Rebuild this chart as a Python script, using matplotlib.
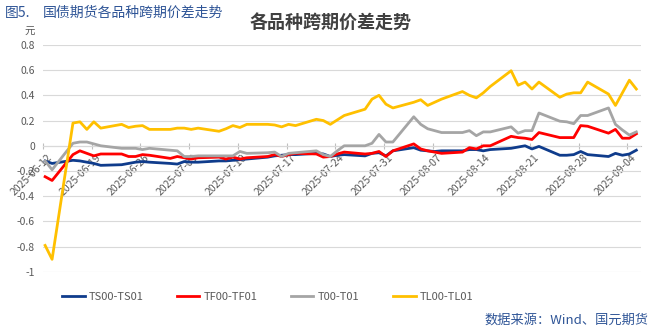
import matplotlib
matplotlib.use("Agg")
import matplotlib.pyplot as plt
import matplotlib.transforms as mtrans
from matplotlib.lines import Line2D
import pandas as pd

plt.rcParams['font.family'] = ['Noto Sans CJK SC', 'DejaVu Sans']

# trading days
dates = [
    "2025-06-12", "2025-06-13",
    "2025-06-16", "2025-06-17", "2025-06-18", "2025-06-19", "2025-06-20",
    "2025-06-23", "2025-06-24", "2025-06-25", "2025-06-26", "2025-06-27",
    "2025-06-30", "2025-07-01", "2025-07-02", "2025-07-03", "2025-07-04",
    "2025-07-07", "2025-07-08", "2025-07-09", "2025-07-10", "2025-07-11",
    "2025-07-14", "2025-07-15", "2025-07-16", "2025-07-17", "2025-07-18",
    "2025-07-21", "2025-07-22", "2025-07-23", "2025-07-24", "2025-07-25",
    "2025-07-28", "2025-07-29", "2025-07-30", "2025-07-31", "2025-08-01",
    "2025-08-04", "2025-08-05", "2025-08-06", "2025-08-07", "2025-08-08",
    "2025-08-11", "2025-08-12", "2025-08-13", "2025-08-14", "2025-08-15",
    "2025-08-18", "2025-08-19", "2025-08-20", "2025-08-21", "2025-08-22",
    "2025-08-25", "2025-08-26", "2025-08-27", "2025-08-28", "2025-08-29",
    "2025-09-01", "2025-09-02", "2025-09-03", "2025-09-04", "2025-09-05",
]

ts = [
    -0.12, -0.14,
    -0.115, -0.12, -0.13, -0.14, -0.155,
    -0.15, -0.14, -0.13, -0.125, -0.13,
    -0.14, -0.145, -0.125, -0.13, -0.13,
    -0.12, -0.12, -0.115, -0.11, -0.105,
    -0.09, -0.08, -0.075, -0.07, -0.07,
    -0.06, -0.065, -0.085, -0.075, -0.07,
    -0.08, -0.06, -0.055, -0.08, -0.04,
    -0.015, -0.035, -0.04, -0.045, -0.04,
    -0.04, -0.03, -0.03, -0.04, -0.03,
    -0.02, -0.01, 0.0, -0.025, -0.005,
    -0.075, -0.075, -0.07, -0.045, -0.07,
    -0.085, -0.06, -0.075, -0.065, -0.035,
]
tf = [
    -0.245, -0.275,
    -0.07, -0.04, -0.06, -0.08, -0.065,
    -0.065, -0.085, -0.085, -0.07, -0.075,
    -0.10, -0.085, -0.095, -0.105, -0.095,
    -0.09, -0.105, -0.09, -0.105, -0.095,
    -0.085, -0.07, -0.085, -0.07, -0.06,
    -0.065, -0.09, -0.085, -0.065, -0.05,
    -0.065, -0.06, -0.045, -0.085, -0.04,
    0.015, -0.025, -0.04, -0.05, -0.06,
    -0.05, -0.015, -0.025, 0.0, 0.0,
    0.075, 0.065, 0.06, 0.05, 0.105,
    0.065, 0.065, 0.065, 0.16, 0.155,
    0.10, 0.13, 0.06, 0.06, 0.095,
]
t = [
    -0.12, -0.19,
    0.02, 0.03, 0.03, 0.015, 0.0,
    -0.02, -0.02, -0.02, -0.03, -0.02,
    -0.035, -0.04, -0.085, -0.085, -0.08,
    -0.08, -0.08, -0.08, -0.045, -0.06,
    -0.055, -0.05, -0.085, -0.06, -0.055,
    -0.04, -0.07, -0.085, -0.04, 0.0,
    0.0, 0.02, 0.09, 0.03, 0.03,
    0.23, 0.17, 0.135, 0.12, 0.105,
    0.105, 0.12, 0.08, 0.11, 0.11,
    0.15, 0.10, 0.12, 0.12, 0.26,
    0.195, 0.19, 0.175, 0.24, 0.24,
    0.30, 0.17, 0.125, 0.085, 0.11,
]
tl = [
    -0.79, -0.90,
    0.18, 0.19, 0.13, 0.19, 0.14,
    0.17, 0.145, 0.155, 0.16, 0.13,
    0.13, 0.14, 0.14, 0.13, 0.14,
    0.115, 0.135, 0.16, 0.145, 0.17,
    0.17, 0.165, 0.15, 0.17, 0.16,
    0.21, 0.20, 0.17, 0.205, 0.24,
    0.29, 0.37, 0.40, 0.33, 0.30,
    0.345, 0.365, 0.32, 0.345, 0.37,
    0.43, 0.40, 0.38, 0.42, 0.47,
    0.595, 0.48, 0.505, 0.45, 0.505,
    0.385, 0.41, 0.42, 0.42, 0.505,
    0.41, 0.32, 0.42, 0.52, 0.45,
]

series_names = ["TS00-TS01", "TF00-TF01", "T00-T01", "TL00-TL01"]
series_colors = ["#0F3C8C", "#FF0000", "#A5A5A5", "#FFC000"]
y_ticks = [0.8, 0.6, 0.4, 0.2, 0, -0.2, -0.4, -0.6, -0.8, -1]
x_ticks = ["2025-06-12", "2025-06-19", "2025-06-26", "2025-07-03", "2025-07-10",
           "2025-07-17", "2025-07-24", "2025-07-31", "2025-08-07", "2025-08-14",
           "2025-08-21", "2025-08-28", "2025-09-04"]

x = pd.to_datetime(dates) + pd.Timedelta(hours=7)

fig = plt.figure(figsize=(6.53, 3.30), dpi=100)
ax = fig.add_axes([0.066, 0.176, 0.916, 0.688])

for vals, name, col in zip([ts, tf, t, tl], series_names, series_colors):
    ax.plot(x, vals, color=col, lw=2.0, label=name, solid_joinstyle='round')

ax.set_ylim(-1, 0.8)
ax.set_xlim(pd.Timestamp("2025-06-12"), pd.Timestamp("2025-09-06"))
ax.set_yticks(y_ticks)
ax.set_yticklabels([f"{v:g}" for v in y_ticks])
ax.grid(axis='y', color='#D9D9D9', lw=0.8)
ax.set_axisbelow(True)

for s in ['top', 'right', 'left']:
    ax.spines[s].set_visible(False)
ax.spines['bottom'].set_position(('data', 0))
ax.spines['bottom'].set_color('#BFBFBF')
ax.spines['bottom'].set_zorder(0.5)
ax.tick_params(axis='x', direction='inout', length=5, color='#BFBFBF',
               labelsize=7.5, labelcolor='#595959', pad=2, labelrotation=45)
ax.tick_params(axis='y', length=0, labelsize=7.5, labelcolor='#595959', pad=6)

ax.set_xticks(pd.to_datetime(x_ticks))
ax.set_xticklabels(x_ticks, rotation=45, ha='right', rotation_mode='anchor')
shift = mtrans.ScaledTranslation(0.04, 0, fig.dpi_scale_trans)
for lab in ax.get_xticklabels():
    lab.set_transform(lab.get_transform() + shift)

fig.text(0.046, 0.895, "元", fontsize=7.5, color='#595959', ha='center')
fig.text(0.507, 0.912, "各品种跨期价差走势", fontsize=13, fontweight='bold',
         color='#404040', ha='center')
fig.text(0.008, 0.962, "图5.", fontsize=10, color='#2F5597', va='center')
fig.text(0.066, 0.962, "国债期货各品种跨期价差走势", fontsize=10,
         color='#2F5597', va='center')
fig.text(0.993, 0.03, "数据来源：Wind、国元期货", fontsize=9.5, color='#2F5597',
         ha='right', va='center')

# legend entries
leg_x = [0.087, 0.262, 0.437, 0.594]
for name, col, lx in zip(series_names, series_colors, leg_x):
    h = Line2D([], [], color=col, lw=2.0)
    fig.legend([h], [name], loc='center left', bbox_to_anchor=(lx, 0.1),
               frameon=False, fontsize=8, handlelength=2.0, handletextpad=0.4,
               labelcolor='#595959', borderpad=0)

fig.savefig("out.png", dpi=100)
